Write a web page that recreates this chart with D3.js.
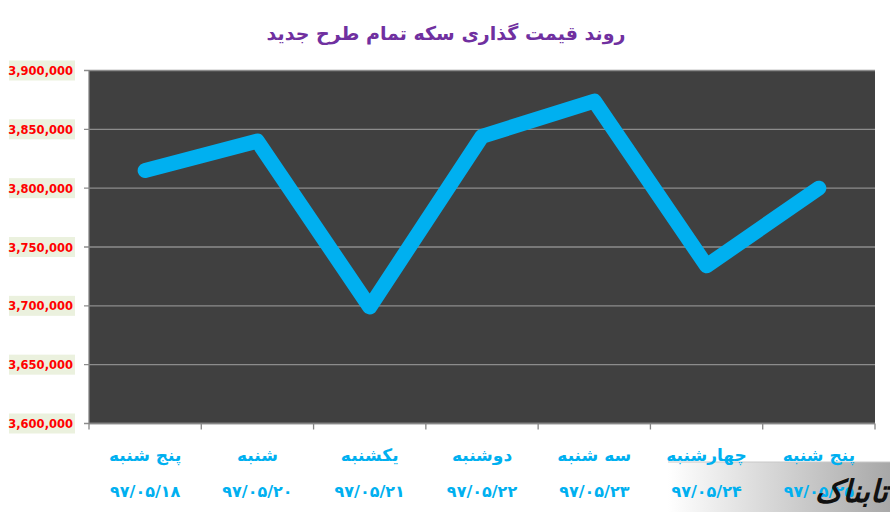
<!DOCTYPE html>
<html>
<head>
<meta charset="utf-8">
<script src="https://cdn.jsdelivr.net/npm/d3@7"></script>
<style>
  body { margin: 0; background: #fff; }
  svg { display: block; }
</style>
</head>
<body>
<svg id="chart" width="890" height="514"></svg>
<script>
var days = ['پنج شنبه', 'شنبه', 'یکشنبه', 'دوشنبه', 'سه شنبه', 'چهارشنبه', 'پنج شنبه'];
var dates = ['۹۷/۰۵/۱۸', '۹۷/۰۵/۲۰', '۹۷/۰۵/۲۱', '۹۷/۰۵/۲۲', '۹۷/۰۵/۲۳', '۹۷/۰۵/۲۴', '۹۷/۰۵/۲۵'];
var prices = [3815000, 3840000, 3699000, 3844000, 3874000, 3734000, 3800000];
var yTicks = [3600000, 3650000, 3700000, 3750000, 3800000, 3850000, 3900000];

var svg = d3.select('#chart');
var plotLeft = 89, plotRight = 875, plotTop = 70.5, plotBottom = 423.5;

var xScale = d3.scaleBand()
  .domain(d3.range(dates.length))
  .range([plotLeft, plotRight]);
var yScale = d3.scaleLinear()
  .domain([3600000, 3900000])
  .range([plotBottom, plotTop]);

// title
svg.append('text')
  .attr('x', 446)
  .attr('y', 40)
  .attr('text-anchor', 'middle')
  .attr('font-family', 'DejaVu Sans')
  .attr('font-weight', 'bold')
  .attr('font-size', '19px')
  .attr('fill', '#7030a0')
  .text('روند قیمت گذاری سکه تمام طرح جدید');

// plot background
svg.append('rect')
  .attr('x', plotLeft)
  .attr('y', plotTop)
  .attr('width', plotRight - plotLeft)
  .attr('height', plotBottom - plotTop)
  .attr('fill', '#404040');

// grid lines
svg.append('g')
  .selectAll('line')
  .data(yTicks)
  .enter()
  .append('line')
  .attr('x1', plotLeft - 5)
  .attr('x2', plotRight)
  .attr('y1', function (d) { return yScale(d); })
  .attr('y2', function (d) { return yScale(d); })
  .attr('stroke', '#8c8c8c')
  .attr('stroke-width', 1.3);

// y axis line
svg.append('line')
  .attr('x1', plotLeft).attr('x2', plotLeft)
  .attr('y1', plotTop).attr('y2', plotBottom)
  .attr('stroke', '#868686')
  .attr('stroke-width', 1.3);

// x axis with ticks on category boundaries
svg.append('line')
  .attr('x1', plotLeft).attr('x2', plotRight)
  .attr('y1', plotBottom).attr('y2', plotBottom)
  .attr('stroke', '#868686')
  .attr('stroke-width', 1.5);
svg.append('g')
  .selectAll('line')
  .data(d3.range(dates.length + 1))
  .enter()
  .append('line')
  .attr('x1', function (i) { return plotLeft + i * xScale.step(); })
  .attr('x2', function (i) { return plotLeft + i * xScale.step(); })
  .attr('y1', plotBottom)
  .attr('y2', plotBottom + 6)
  .attr('stroke', '#868686')
  .attr('stroke-width', 1.3);

// y labels with pale boxes
var yLab = svg.append('g')
  .selectAll('g')
  .data(yTicks)
  .enter()
  .append('g')
  .attr('transform', function (d) { return 'translate(0,' + yScale(d) + ')'; });
yLab.append('rect')
  .attr('x', 9)
  .attr('y', -10)
  .attr('width', 66)
  .attr('height', 20)
  .attr('fill', '#ebf1de');
yLab.append('text')
  .attr('x', 73)
  .attr('y', 4.5)
  .attr('text-anchor', 'end')
  .attr('font-family', 'DejaVu Sans')
  .attr('font-weight', 'bold')
  .attr('font-size', '11.5px')
  .attr('fill', '#ff0000')
  .text(function (d) { return d3.format(',')(d); });

// price line
var line = d3.line()
  .x(function (d, i) { return xScale(i) + xScale.bandwidth() / 2; })
  .y(function (d) { return yScale(d); });
svg.append('path')
  .datum(prices)
  .attr('d', line)
  .attr('fill', 'none')
  .attr('stroke', '#00b0f0')
  .attr('stroke-width', 15)
  .attr('stroke-linecap', 'round')
  .attr('stroke-linejoin', 'round');

// logo box (bottom right)
var grad = svg.append('defs').append('linearGradient')
  .attr('id', 'logoGrad')
  .attr('x1', '0%').attr('x2', '100%');
grad.append('stop').attr('offset', '0%').attr('stop-color', '#ffffff');
grad.append('stop').attr('offset', '100%').attr('stop-color', '#a8a8a8');
svg.append('rect')
  .attr('x', 668)
  .attr('y', 462)
  .attr('width', 222)
  .attr('height', 50)
  .attr('fill', 'url(#logoGrad)');
svg.append('line')
  .attr('x1', 668).attr('x2', 890)
  .attr('y1', 462).attr('y2', 462)
  .attr('stroke', '#c8c8c8');

// category labels
var xLab = svg.append('g')
  .selectAll('g')
  .data(dates)
  .enter()
  .append('g')
  .attr('transform', function (d, i) {
    return 'translate(' + (xScale(i) + xScale.bandwidth() / 2) + ',0)';
  });
xLab.append('text')
  .attr('y', 461)
  .attr('text-anchor', 'middle')
  .attr('font-family', 'DejaVu Sans')
  .attr('font-weight', 'bold')
  .attr('font-size', '17px')
  .attr('fill', '#00b0f0')
  .text(function (d, i) { return days[i]; });
xLab.append('text')
  .attr('y', 497)
  .attr('text-anchor', 'middle')
  .attr('font-family', 'DejaVu Sans')
  .attr('font-weight', 'bold')
  .attr('font-size', '16px')
  .attr('fill', '#00b0f0')
  .text(function (d) { return d; });

// logo text
svg.append('text')
  .attr('x', 888)
  .attr('y', 502)
  .attr('text-anchor', 'end')
  .attr('font-family', 'DejaVu Sans')
  .attr('font-weight', 'bold')
  .attr('font-style', 'italic')
  .attr('font-size', '31px')
  .attr('fill', '#111')
  .text('تابناک');
</script>
</body>
</html>
